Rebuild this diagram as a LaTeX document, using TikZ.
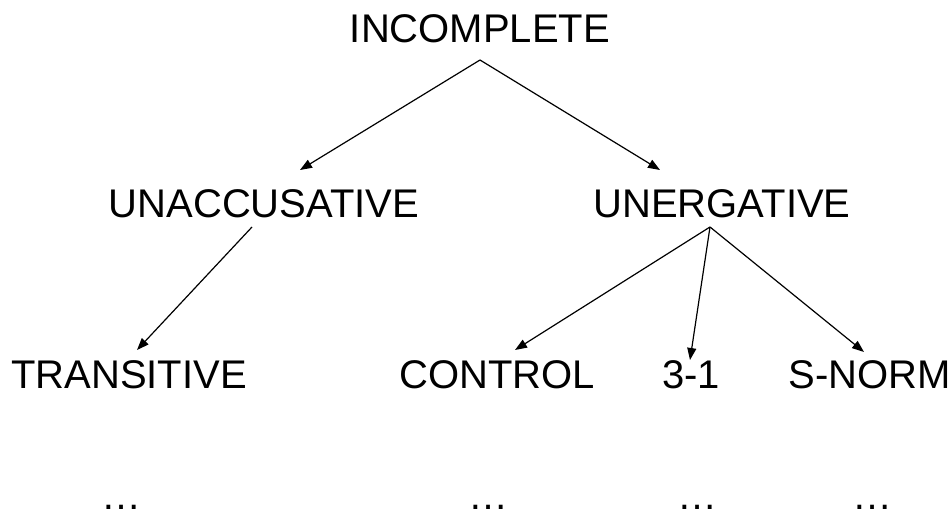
\documentclass[tikz,border=0pt]{standalone}
\usepackage{fontspec}
\setmainfont{Liberation Sans}
\usetikzlibrary{arrows.meta}
\begin{document}
\begin{tikzpicture}[x=1pt,y=-1pt,
  lbl/.style={anchor=base,inner sep=0pt,font=\fontsize{40}{48}\selectfont},
  arr/.style={line width=1.2pt,-{Triangle[length=12pt,width=9pt]}}]
\useasboundingbox (0,0) rectangle (951,510);
\node[lbl] (inc) at (480,43) {INCOMPLETE};
\node[lbl] (unacc) at (264,218) {UNACCUSATIVE};
\node[lbl] (unerg) at (722,218) {UNERGATIVE};
\node[lbl] (trans) at (129,389) {TRANSITIVE};
\node[lbl] (ctrl) at (497,389) {CONTROL};
\node[lbl] (tho) at (691,389) {3-1};
\node[lbl] (snorm) at (870,389) {S-NORM};
\node[lbl] (d1) at (121,509) {…};
\node[lbl] (d2) at (488,509) {…};
\node[lbl] (d3) at (697,509) {…};
\node[lbl] (d4) at (872,509) {…};
\coordinate (incS) at (480,60);
\coordinate (unaccN) at (300,170);
\coordinate (unergN) at (660,170);
\coordinate (unaccS) at (252,227);
\coordinate (transN) at (137,350);
\coordinate (unergS) at (710,227);
\coordinate (ctrlN) at (515,350);
\coordinate (thoN) at (690,360);
\coordinate (snormN) at (864,352);
\draw[arr] (incS) -- (unaccN);
\draw[arr] (incS) -- (unergN);
\draw[arr] (unaccS) -- (transN);
\draw[arr] (unergS) -- (ctrlN);
\draw[arr] (unergS) -- (thoN);
\draw[arr] (unergS) -- (snormN);
\end{tikzpicture}
\end{document}
